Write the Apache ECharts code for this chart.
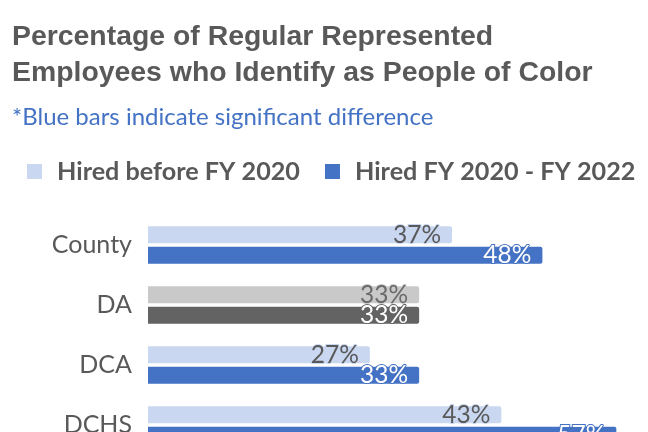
<!DOCTYPE html>
<html>
<head>
  <meta charset="utf-8">
  <style>
    html, body { margin: 0; padding: 0; background: #fff; }
    #main { width: 648px; height: 432px; }
  </style>
</head>
<body>
  <div id="main"></div>
  <script src="https://cdn.jsdelivr.net/npm/echarts@6/dist/echarts.min.js"></script>
  <script>
    // data
    var categories = ['County', 'DA', 'DCA', 'DCHS'];
    var hiredBefore = [37, 33, 27, 43];
    var hiredRecent = [48, 33, 33, 57];
    // blue bars = significant difference, grey = not significant
    var significant = [true, false, true, true];
    var seriesNames = ['Hired before FY 2020', 'Hired FY 2020 - FY 2022'];

    var lightBlue = '#c9d7f1', blue = '#4472c4';
    var lightGrey = '#c9c9c9', darkGrey = '#636363';
    var textGrey = '#595959';
    var labelFont = 'Lato';

    function beforeItems() {
      return hiredBefore.map(function (v, i) {
        var fill = significant[i] ? lightBlue : lightGrey;
        return {
          value: v,
          itemStyle: { color: fill },
          label: { color: significant[i] ? textGrey : '#6a6a6a', textBorderColor: fill }
        };
      });
    }

    function recentItems() {
      return hiredRecent.map(function (v, i) {
        var fill = significant[i] ? blue : darkGrey;
        return {
          value: v,
          itemStyle: { color: fill },
          label: { color: '#ffffff', textBorderColor: fill }
        };
      });
    }

    var barLabel = {
      show: true,
      position: 'insideRight',
      distance: 11,
      fontFamily: labelFont,
      fontSize: 24.5,
      textBorderWidth: 2,
      formatter: '{c}%'
    };

    var chart = echarts.init(document.getElementById('main'));
    chart.setOption({
      animation: false,
      title: {
        text: 'Percentage of Regular Represented\nEmployees who Identify as People of Color',
        subtext: '*Blue bars indicate significant difference',
        left: 12,
        top: 19,
        padding: 0,
        itemGap: 14,
        textStyle: {
          fontFamily: 'Liberation Sans',
          fontWeight: 'bold',
          fontSize: 28.4,
          lineHeight: 36,
          color: textGrey
        },
        subtextStyle: {
          fontFamily: labelFont,
          fontSize: 24,
          color: blue
        }
      },
      legend: {
        data: seriesNames,
        left: 27,
        top: 159,
        padding: 0,
        icon: 'rect',
        itemWidth: 15,
        itemHeight: 15,
        itemGap: 25,
        textStyle: {
          fontFamily: labelFont,
          fontWeight: 'bold',
          fontSize: 25.2,
          color: textGrey,
          padding: [0, 0, 0, 10]
        }
      },
      grid: { left: 148, top: 215, width: 493, height: 240, outerBoundsMode: 'none' },
      xAxis: {
        type: 'value',
        min: 0,
        max: 60,
        show: false
      },
      yAxis: {
        type: 'category',
        data: categories,
        inverse: true,
        axisLine: { show: false },
        axisTick: { show: false },
        axisLabel: {
          margin: 16,
          fontFamily: labelFont,
          fontSize: 25,
          color: textGrey
        }
      },
      series: [
        {
          name: seriesNames[0],
          type: 'bar',
          barWidth: 17,
          barGap: '20%',
          itemStyle: { color: lightBlue, borderRadius: [0, 2, 2, 0] },
          label: barLabel,
          data: beforeItems()
        },
        {
          name: seriesNames[1],
          type: 'bar',
          barWidth: 17,
          barGap: '20%',
          itemStyle: { color: blue, borderRadius: [0, 2, 2, 0] },
          label: barLabel,
          data: recentItems()
        }
      ]
    });
  </script>
</body>
</html>
